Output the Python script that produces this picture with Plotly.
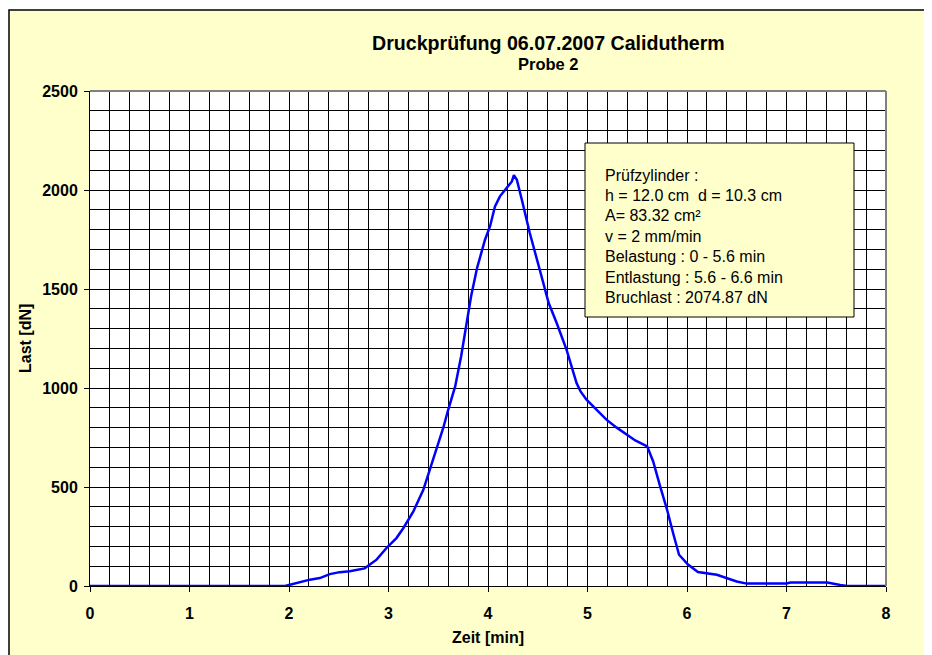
import plotly.graph_objects as go

# ---- data ----
zeit_min = [0, 0.5, 1.0, 1.5, 1.96, 2.0, 2.1, 2.21, 2.31, 2.41, 2.51, 2.61, 2.76, 2.88,
            2.98, 3.08, 3.15, 3.25, 3.35, 3.45, 3.55, 3.60, 3.67, 3.73, 3.78, 3.83,
            3.89, 3.94, 3.97, 4.02, 4.07, 4.12, 4.19, 4.24, 4.26, 4.29, 4.34, 4.42,
            4.52, 4.61, 4.69, 4.79, 4.89, 4.93, 4.99, 5.09, 5.19, 5.29, 5.39, 5.48,
            5.60, 5.66, 5.73, 5.80, 5.86, 5.92, 6.01, 6.11, 6.30, 6.40, 6.50, 6.60,
            7.00, 7.04, 7.41, 7.54, 7.61, 8.0]
last_dN = [0, 0, 0, 0, 0, 5, 18, 32, 40, 60, 70, 74, 89, 133,
           192, 242, 293, 377, 486, 640, 798, 890, 1008, 1160, 1311, 1463,
           1606, 1698, 1749, 1816, 1917, 1968, 2010, 2043, 2074.87, 2052, 1951, 1783,
           1597, 1429, 1328, 1193, 1025, 983, 941, 891, 840, 801, 764, 735,
           705, 629, 503, 385, 268, 158, 108, 71, 57, 40, 23, 12,
           13, 18, 18, 5, 0, 0]

title_text = "Druckprüfung 06.07.2007 Calidutherm"
subtitle_text = "Probe 2"
x_title = "Zeit [min]"
y_title = "Last [dN]"
info_lines = ["Prüfzylinder :",
              "h = 12.0 cm  d = 10.3 cm",
              "A= 83.32 cm²",
              "v = 2 mm/min",
              "Belastung : 0 - 5.6 min",
              "Entlastung : 5.6 - 6.6 min",
              "Bruchlast : 2074.87 dN"]

# ---- layout geometry (page has an 8px body margin) ----
OFF = 8
WIN_W, WIN_H = 932, 655
W, H = WIN_W - OFF, WIN_H - OFF
PL, PR, PT, PB = 90, 886, 91, 586          # plot area in window pixels
L, T = PL - OFF, PT - OFF
R, B = WIN_W - PR, WIN_H - PB
PW, PH = PR - PL, PB - PT
FONT = "Arial, Liberation Sans, sans-serif"


def px(x):
    """window pixel x -> paper fraction"""
    return (x - PL) / PW


def py(y):
    """window pixel y -> paper fraction"""
    return (PB - y) / PH


fig = go.Figure()
fig.add_trace(go.Scatter(x=zeit_min, y=last_dN, mode="lines",
                         line=dict(color="#0000FF", width=2.5),
                         hoverinfo="x+y", showlegend=False))

shapes = [
    # chart area
    dict(type="rect", xref="paper", yref="paper", x0=px(9), x1=px(945), y0=py(10), y1=py(670),
         fillcolor="#FFFFCC", line=dict(color="#000000", width=1.5), layer="below"),
    # plot area
    dict(type="rect", xref="paper", yref="paper", x0=0, x1=1, y0=0, y1=1,
         fillcolor="#FFFFFF", line=dict(width=0), layer="below"),
    # grey plot border top/right
    dict(type="line", xref="paper", yref="paper", x0=0, x1=1, y0=1, y1=1,
         line=dict(color="#808080", width=2), layer="above"),
    dict(type="line", xref="paper", yref="paper", x0=1, x1=1, y0=0, y1=1,
         line=dict(color="#808080", width=2), layer="above"),
    # info box
    dict(type="rect", xref="paper", yref="paper", x0=px(585), x1=px(854), y0=py(317), y1=py(143),
         fillcolor="#FFFFCC", line=dict(color="#000000", width=1), layer="above"),
]

annotations = [
    dict(text=title_text, x=px(548), y=py(43), xref="paper", yref="paper", showarrow=False,
         xanchor="center", yanchor="middle", font=dict(family=FONT, size=19.6, color="black", weight="bold")),
    dict(text=subtitle_text, x=px(548), y=py(64), xref="paper", yref="paper", showarrow=False,
         xanchor="center", yanchor="middle", font=dict(family=FONT, size=16.5, color="black", weight="bold")),
    dict(text=x_title, x=px(488), y=py(637), xref="paper", yref="paper", showarrow=False,
         xanchor="center", yanchor="middle", font=dict(family=FONT, size=16, color="black", weight="bold")),
    dict(text=y_title, x=px(25), y=py(339), xref="paper", yref="paper", showarrow=False, textangle=-90,
         xanchor="center", yanchor="middle", font=dict(family=FONT, size=16, color="black", weight="bold")),
]
for i, line in enumerate(info_lines):
    annotations.append(dict(text=line, x=px(603), y=py(175 + 20.4 * i), xref="paper", yref="paper",
                            showarrow=False, xanchor="left", yanchor="middle",
                            font=dict(family=FONT, size=16, color="black")))

axis_common = dict(
    showgrid=True, gridcolor="#000000", gridwidth=1,
    ticks="outside", ticklen=5, tickcolor="#000000", tickwidth=1,
    showline=True, linecolor="#000000", linewidth=1,
    zeroline=False, layer="below traces",
    tickfont=dict(family=FONT, size=16, color="black", weight="bold"),
)

fig.update_layout(
    width=W, height=H,
    margin=dict(l=L, r=R, t=T, b=B, pad=0, autoexpand=False),
    paper_bgcolor="#FFFFFF",
    plot_bgcolor="rgba(0,0,0,0)",
    showlegend=False,
    shapes=shapes,
    annotations=annotations,
    xaxis=dict(range=[0, 8], tick0=0, dtick=1, ticklabelstandoff=8,
               minor=dict(dtick=0.2, showgrid=True, gridcolor="#000000", gridwidth=1, ticks=""),
               **axis_common),
    yaxis=dict(range=[0, 2500], tick0=0, dtick=500, ticklabelstandoff=3,
               minor=dict(dtick=100, showgrid=True, gridcolor="#000000", gridwidth=1, ticks=""),
               **axis_common),
)

fig.write_html("out.html")
